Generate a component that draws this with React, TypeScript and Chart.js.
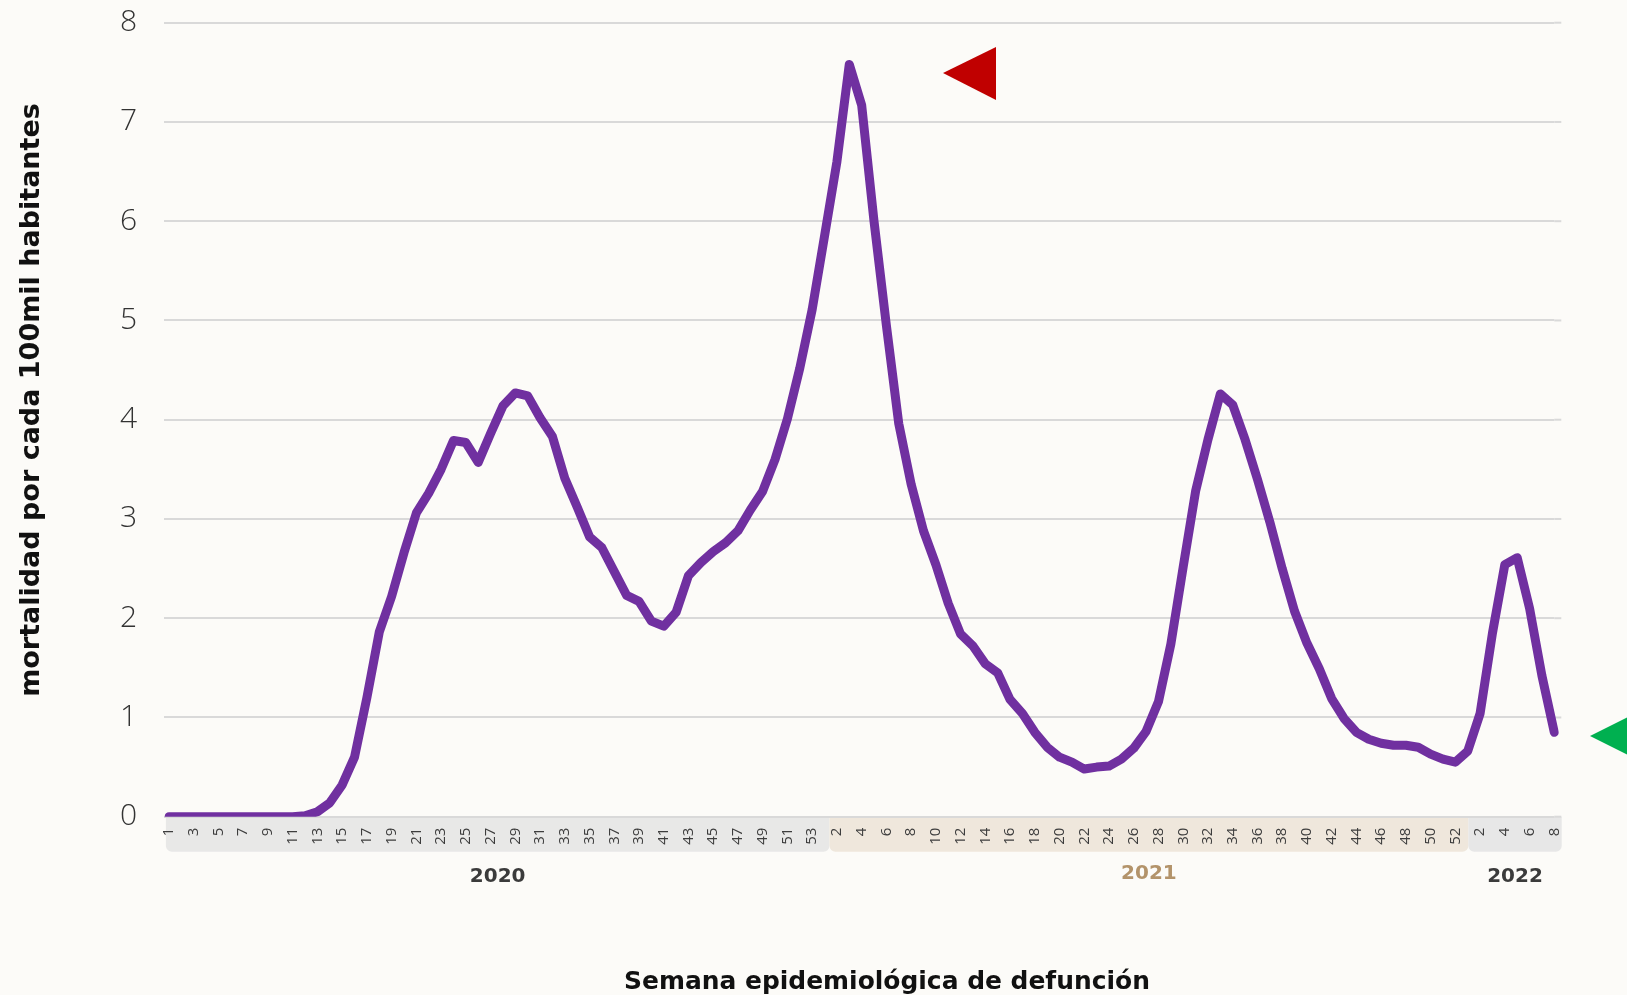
import { useEffect, useRef } from 'react';
import { Chart, registerables } from 'chart.js';

Chart.register(...registerables);

// ---- Data ----
const weeks2020 = ['1','2','3','4','5','6','7','8','9','10','11','12','13','14','15','16','17','18','19','20','21','22','23','24','25','26','27','28','29','30','31','32','33','34','35','36','37','38','39','40','41','42','43','44','45','46','47','48','49','50','51','52','53'];
const weeks2021 = ['1','2','3','4','5','6','7','8','9','10','11','12','13','14','15','16','17','18','19','20','21','22','23','24','25','26','27','28','29','30','31','32','33','34','35','36','37','38','39','40','41','42','43','44','45','46','47','48','49','50','51','52'];
const weeks2022 = ['1','2','3','4','5','6','7','8'];

const mort2020 = [0,0,0,0,0,0,0,0,0,0,0,0.01,0.05,0.14,0.32,0.6,1.2,1.86,2.22,2.66,3.06,3.26,3.5,3.79,3.77,3.57,3.86,4.14,4.27,4.24,4.02,3.83,3.41,3.12,2.82,2.71,2.47,2.23,2.17,1.97,1.92,2.06,2.43,2.56,2.67,2.76,2.88,3.09,3.28,3.6,4.01,4.52,5.11];
const mort2021 = [5.85,6.6,7.58,7.17,6.0,4.95,3.96,3.35,2.88,2.54,2.15,1.84,1.72,1.54,1.45,1.18,1.04,0.85,0.7,0.6,0.55,0.48,0.5,0.51,0.58,0.69,0.86,1.16,1.74,2.52,3.28,3.8,4.26,4.15,3.8,3.4,2.97,2.5,2.07,1.75,1.49,1.19,0.99,0.85,0.78,0.74,0.72,0.72,0.7,0.63,0.58,0.55];
const mort2022 = [0.66,1.04,1.85,2.54,2.61,2.1,1.42,0.85];

const yearLabels = ['2020', '2021', '2022'];
const yTitle = 'mortalidad por cada 100mil habitantes';
const xTitle = 'Semana epidemiológica de defunción';

const FONT = '"Open Sans", "Noto Sans", sans-serif';
const BOLD_FONT = '"DejaVu Sans", "Open Sans", sans-serif';

function fitFont(ctx: CanvasRenderingContext2D, text: string, target: number, family: string) {
  ctx.font = `bold 100px ${family}`;
  const w = ctx.measureText(text).width;
  return (100 * target) / w;
}

export default function App() {
  const ref = useRef<HTMLCanvasElement | null>(null);

  useEffect(() => {
    const canvas = ref.current;
    if (!canvas) return;
    const labels = [...weeks2020, ...weeks2021, ...weeks2022];
    const values = [...mort2020, ...mort2021, ...mort2022];

    const n20 = weeks2020.length;
    const n21 = weeks2021.length;
    const n22 = weeks2022.length;
    const bands = [
      { from: -0.25, to: n20 + 0.4, fill: '#e8e8e7', text: '#3b3b3b', year: yearLabels[0], ty: 877 },
      { from: n20 + 0.4, to: n20 + n21 + 0.05, fill: '#efe7dc', text: '#b3936a', year: yearLabels[1], ty: 874 },
      { from: n20 + n21 + 0.05, to: n20 + n21 + n22 - 1 + 0.6, fill: '#e7e7e7', text: '#3b3b3b', year: yearLabels[2], ty: 877 },
    ];

    const decor = {
      id: 'decor',
      beforeDraw(chart: any) {
        const { ctx, width, height, chartArea } = chart;
        const xs = chart.scales.x;
        ctx.save();
        ctx.fillStyle = '#fcfbf8';
        ctx.fillRect(0, 0, width, height);
        bands.forEach((b) => {
          const x0 = xs.getPixelForValue(b.from);
          const x1 = xs.getPixelForValue(b.to);
          ctx.fillStyle = b.fill;
          ctx.beginPath();
          (ctx as any).roundRect(x0, chartArea.bottom, x1 - x0, 35, [0, 0, 6, 6]);
          ctx.fill();
          ctx.fillStyle = b.text;
          ctx.font = `bold 20px ${BOLD_FONT}`;
          ctx.textAlign = 'center';
          ctx.textBaseline = 'middle';
          ctx.fillText(b.year, (x0 + x1) / 2, b.ty);
        });
        ctx.restore();
      },
      beforeDatasetsDraw(chart: any) {
        const { ctx, chartArea } = chart;
        const ys = chart.scales.y;
        ctx.save();
        ctx.strokeStyle = '#d9d9d9';
        ctx.lineWidth = 2;
        ys.ticks.forEach((t: any) => {
          const y = ys.getPixelForValue(t.value);
          ctx.beginPath();
          ctx.moveTo(chartArea.right, y);
          ctx.lineTo(chartArea.right + 7, y);
          ctx.stroke();
        });
        ctx.restore();
      },
      afterDraw(chart: any) {
        const { ctx } = chart;
        ctx.save();
        ctx.fillStyle = '#c00000';
        ctx.beginPath();
        ctx.moveTo(943, 73);
        ctx.lineTo(996, 47);
        ctx.lineTo(996, 100);
        ctx.closePath();
        ctx.fill();
        ctx.fillStyle = '#00b050';
        ctx.beginPath();
        ctx.moveTo(1590, 736);
        ctx.lineTo(1643, 709.5);
        ctx.lineTo(1643, 762.5);
        ctx.closePath();
        ctx.fill();
        ctx.fillStyle = '#111111';
        ctx.textAlign = 'center';
        ctx.textBaseline = 'middle';
        const ySize = fitFont(ctx, yTitle, 594, BOLD_FONT);
        ctx.font = `bold ${ySize}px ${BOLD_FONT}`;
        ctx.save();
        ctx.translate(32, 400);
        ctx.rotate(-Math.PI / 2);
        ctx.fillText(yTitle, 0, 0);
        ctx.restore();
        const xSize = fitFont(ctx, xTitle, 526, BOLD_FONT);
        ctx.font = `bold ${xSize}px ${BOLD_FONT}`;
        ctx.fillText(xTitle, 887, 983);
        ctx.restore();
      },
    };

    const chart = new Chart(canvas, {
      type: 'line',
      data: {
        labels,
        datasets: [
          {
            data: values,
            borderColor: '#7030a0',
            borderWidth: 9,
            borderJoinStyle: 'round',
            borderCapStyle: 'round',
            pointRadius: 0,
            tension: 0,
            fill: false,
          },
        ],
      },
      options: {
        responsive: false,
        animation: false,
        devicePixelRatio: 1,
        layout: { padding: { top: 22.7, right: 72.7, left: 0, bottom: 0 } },
        plugins: { legend: { display: false }, tooltip: { enabled: false } },
        scales: {
          x: {
            offset: false,
            grid: { display: false, drawTicks: false },
            border: { display: false },
            afterFit: (s: any) => {
              s.height = 995 - 816.7;
              s.paddingLeft = 0;
              s.paddingRight = 0;
            },
            ticks: {
              autoSkip: false,
              minRotation: 90,
              maxRotation: 90,
              padding: 11,
              color: '#3d3d3d',
              font: { family: FONT, size: 15 },
              callback: (_v: any, i: number) => (i % 2 === 0 ? labels[i] : ''),
            },
          },
          y: {
            min: 0,
            max: 8,
            afterFit: (s: any) => {
              s.width = 169;
              s.paddingTop = 0;
              s.paddingBottom = 0;
            },
            border: { display: false },
            grid: { color: '#d9d9d9', lineWidth: 2, tickLength: 5, drawTicks: true, tickColor: '#d9d9d9' },
            ticks: {
              stepSize: 1,
              padding: 27,
              color: '#333333',
              font: { family: FONT, size: 30, weight: '300' as any },
            },
          },
        },
      },
      plugins: [decor],
    });
    return () => chart.destroy();
  }, []);

  return (
    <div style={{ position: 'fixed', left: 0, top: 0, width: 1627, height: 995 }}>
      <canvas ref={ref} width={1627} height={995} style={{ display: 'block', width: 1627, height: 995 }} />
    </div>
  );
}
